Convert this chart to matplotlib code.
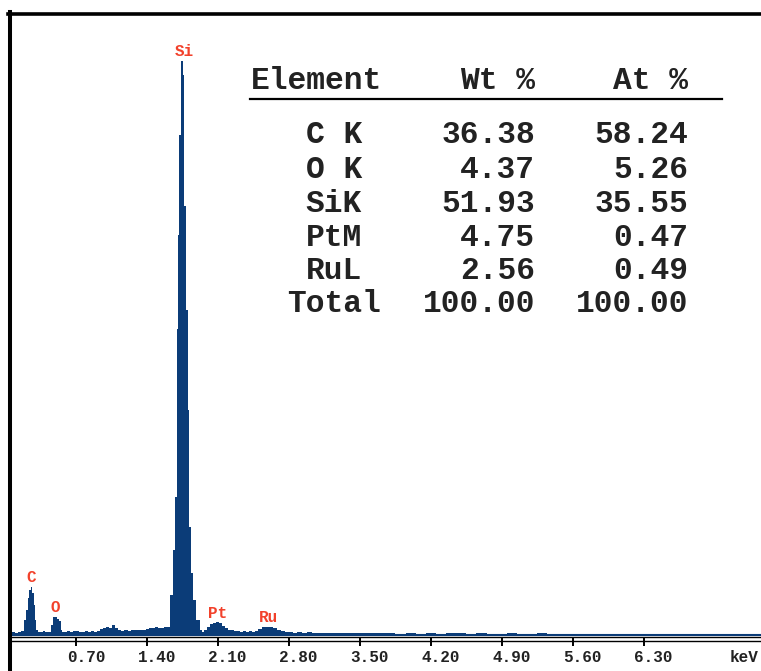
import numpy as np
import matplotlib as mpl
import matplotlib.pyplot as plt
from matplotlib.lines import Line2D

mpl.use('agg')

# spectrum (energy in keV, counts)
energy = [0.045, 0.08, 0.11, 0.14, 0.17, 0.193, 0.210, 0.226, 0.243, 0.260, 0.272,
          0.285, 0.299, 0.312, 0.325, 0.342, 0.36, 0.38, 0.40, 0.42, 0.440, 0.463,
          0.480, 0.500, 0.519, 0.539, 0.554, 0.569, 0.59, 0.62, 0.65, 0.68, 0.71,
          0.74, 0.77, 0.80, 0.83, 0.86, 0.89, 0.92, 0.95, 0.98, 1.01, 1.04, 1.07,
          1.10, 1.13, 1.16, 1.19, 1.22, 1.25, 1.28, 1.31, 1.34, 1.37, 1.40, 1.43,
          1.46, 1.49, 1.52, 1.55, 1.58, 1.61, 1.645, 1.666, 1.682, 1.696, 1.709,
          1.726, 1.743, 1.758, 1.773, 1.790, 1.806, 1.822, 1.842, 1.868, 1.901,
          1.931, 1.941, 1.970, 2.000, 2.030, 2.059, 2.089, 2.119, 2.148, 2.178,
          2.208, 2.237, 2.27, 2.30, 2.33, 2.36, 2.39, 2.42, 2.45, 2.474, 2.514,
          2.543, 2.583, 2.622, 2.661, 2.701, 2.740, 2.78, 2.82, 2.86, 2.90, 2.95,
          3.0, 3.05, 3.1, 3.15, 3.2, 3.25, 3.3, 3.4, 3.5, 3.6, 3.7, 3.8, 3.9, 4.0,
          4.1, 4.2, 4.3, 4.4, 4.5, 4.6, 4.7, 4.8, 4.9, 5.0, 5.1, 5.2, 5.3, 5.4,
          5.5, 5.6, 5.7, 5.8, 5.9, 6.0, 6.1, 6.2, 6.3, 6.4, 6.5, 6.6, 6.7, 6.8,
          6.9, 7.0, 7.1, 7.2, 7.46]
counts = [10, 12, 10, 14, 18, 62, 102, 150, 182, 194, 170,
          122, 62, 22, 12, 12, 12, 16, 12, 14, 14, 40,
          74, 74, 66, 58, 22, 14, 12, 16, 12, 18, 16,
          12, 14, 16, 14, 16, 14, 18, 26, 30, 34, 30, 40,
          28, 20, 18, 20, 18, 20, 22, 20, 22, 20, 24, 30,
          28, 32, 30, 30, 32, 34, 162, 342, 554, 1226, 1602,
          2002, 2298, 2242, 1718, 1302, 902, 434, 250, 142, 60,
          20, 12, 20, 32, 44, 50, 52, 48, 38, 28,
          22, 20, 16, 18, 14, 16, 14, 16, 14, 16, 26,
          32, 34, 34, 28, 22, 16, 12, 14, 10, 12, 10,
          12, 8, 10, 8, 10, 8, 10, 8, 8, 10, 8, 8, 6, 8,
          6, 8, 6, 10, 8, 6, 8, 6, 6, 8, 6, 6, 8, 4,
          6, 4, 6, 4, 4, 6, 4, 4, 4, 4, 2, 4, 2, 4,
          2, 2, 2, 0, 0]

peak_names = ['C', 'O', 'Si', 'Pt', 'Ru']
peak_energy = [0.255, 0.492, 1.77, 2.095, 2.598]
peak_counts = [214, 94, 2314, 70, 50]

tick_vals = [0.70, 1.40, 2.10, 2.80, 3.50, 4.20, 4.90, 5.60, 6.30]
tick_labels = ['0.70', '1.40', '2.10', '2.80', '3.50', '4.20', '4.90', '5.60', '6.30']

elements = ['C K', 'O K', 'SiK', 'PtM', 'RuL', 'Total']
wt_pct = ['36.38', '4.37', '51.93', '4.75', '2.56', '100.00']
at_pct = ['58.24', '5.26', '35.55', '0.47', '0.49', '100.00']

W, H = 761, 671
blue = '#0b3c78'
red = '#f2412b'
mono = 'Liberation Mono'


def fx(px):
    return px / W


def fy(py):
    return 1 - py / H


fig = plt.figure(figsize=(W / 100, H / 100), dpi=100)
ax = fig.add_axes([fx(10), fy(646), fx(751), (646 - 14) / H])
ax.set_xlim(0.045, 7.459)
ax.set_ylim(-44, 2484)

ax.fill_between(energy, counts, 0, step='mid', color=blue, lw=0)
ax.axhline(0, color=blue, lw=1.5)
ax.axhline(-8, color='black', lw=1.0)
ax.axhline(-22, color='black', lw=1.0)

for s in ax.spines.values():
    s.set_visible(False)
ax.set_yticks([])
ax.set_xticks(tick_vals)
ax.tick_params(axis='x', direction='in', length=6.5, width=1.4, color='black',
               labelbottom=False)

for t, lab in zip(tick_vals, tick_labels):
    ax.annotate(lab, xy=(t, 0), xycoords=('data', 'axes fraction'),
                xytext=(-7.0, -11.3), textcoords='offset points',
                ha='left', va='baseline', fontsize=11.5, fontweight='bold',
                family=mono, color='#222222')
ax.annotate('keV', xy=(7.29, 0), xycoords=('data', 'axes fraction'),
            xytext=(0, -11.3), textcoords='offset points',
            ha='center', va='baseline', fontsize=11.5, fontweight='bold',
            family=mono, color='#222222')

for name, e, c in zip(peak_names, peak_energy, peak_counts):
    ax.text(e, c, name, ha='center', va='baseline', fontsize=11.5,
            fontweight='bold', family=mono, color=red)

# frame
fig.add_artist(Line2D([fx(10.3), fx(10.3)], [fy(12), 0], color='black', lw=2.9))
fig.add_artist(Line2D([fx(8.3), 1], [fy(14), fy(14)], color='black', lw=2.6))

# composition table
tk = dict(fontsize=22.5, fontweight='bold', family=mono, color='#222222',
          va='baseline', transform=fig.transFigure)
fig.text(fx(251), fy(89), 'Element', ha='left', **tk)
fig.text(fx(535), fy(89), 'Wt %', ha='right', **tk)
fig.text(fx(688), fy(89), 'At %', ha='right', **tk)
fig.add_artist(Line2D([fx(250), fx(722)], [fy(98.5), fy(98.5)], color='black', lw=1.6))

row_y = [143, 178, 212, 246, 279, 312]
for yy, el, w, a in zip(row_y, elements, wt_pct, at_pct):
    fig.text(fx(334), fy(yy), el, ha='center', **tk)
    fig.text(fx(535), fy(yy), w, ha='right', **tk)
    fig.text(fx(688), fy(yy), a, ha='right', **tk)

fig.savefig('out.png', dpi=100, facecolor='white')
